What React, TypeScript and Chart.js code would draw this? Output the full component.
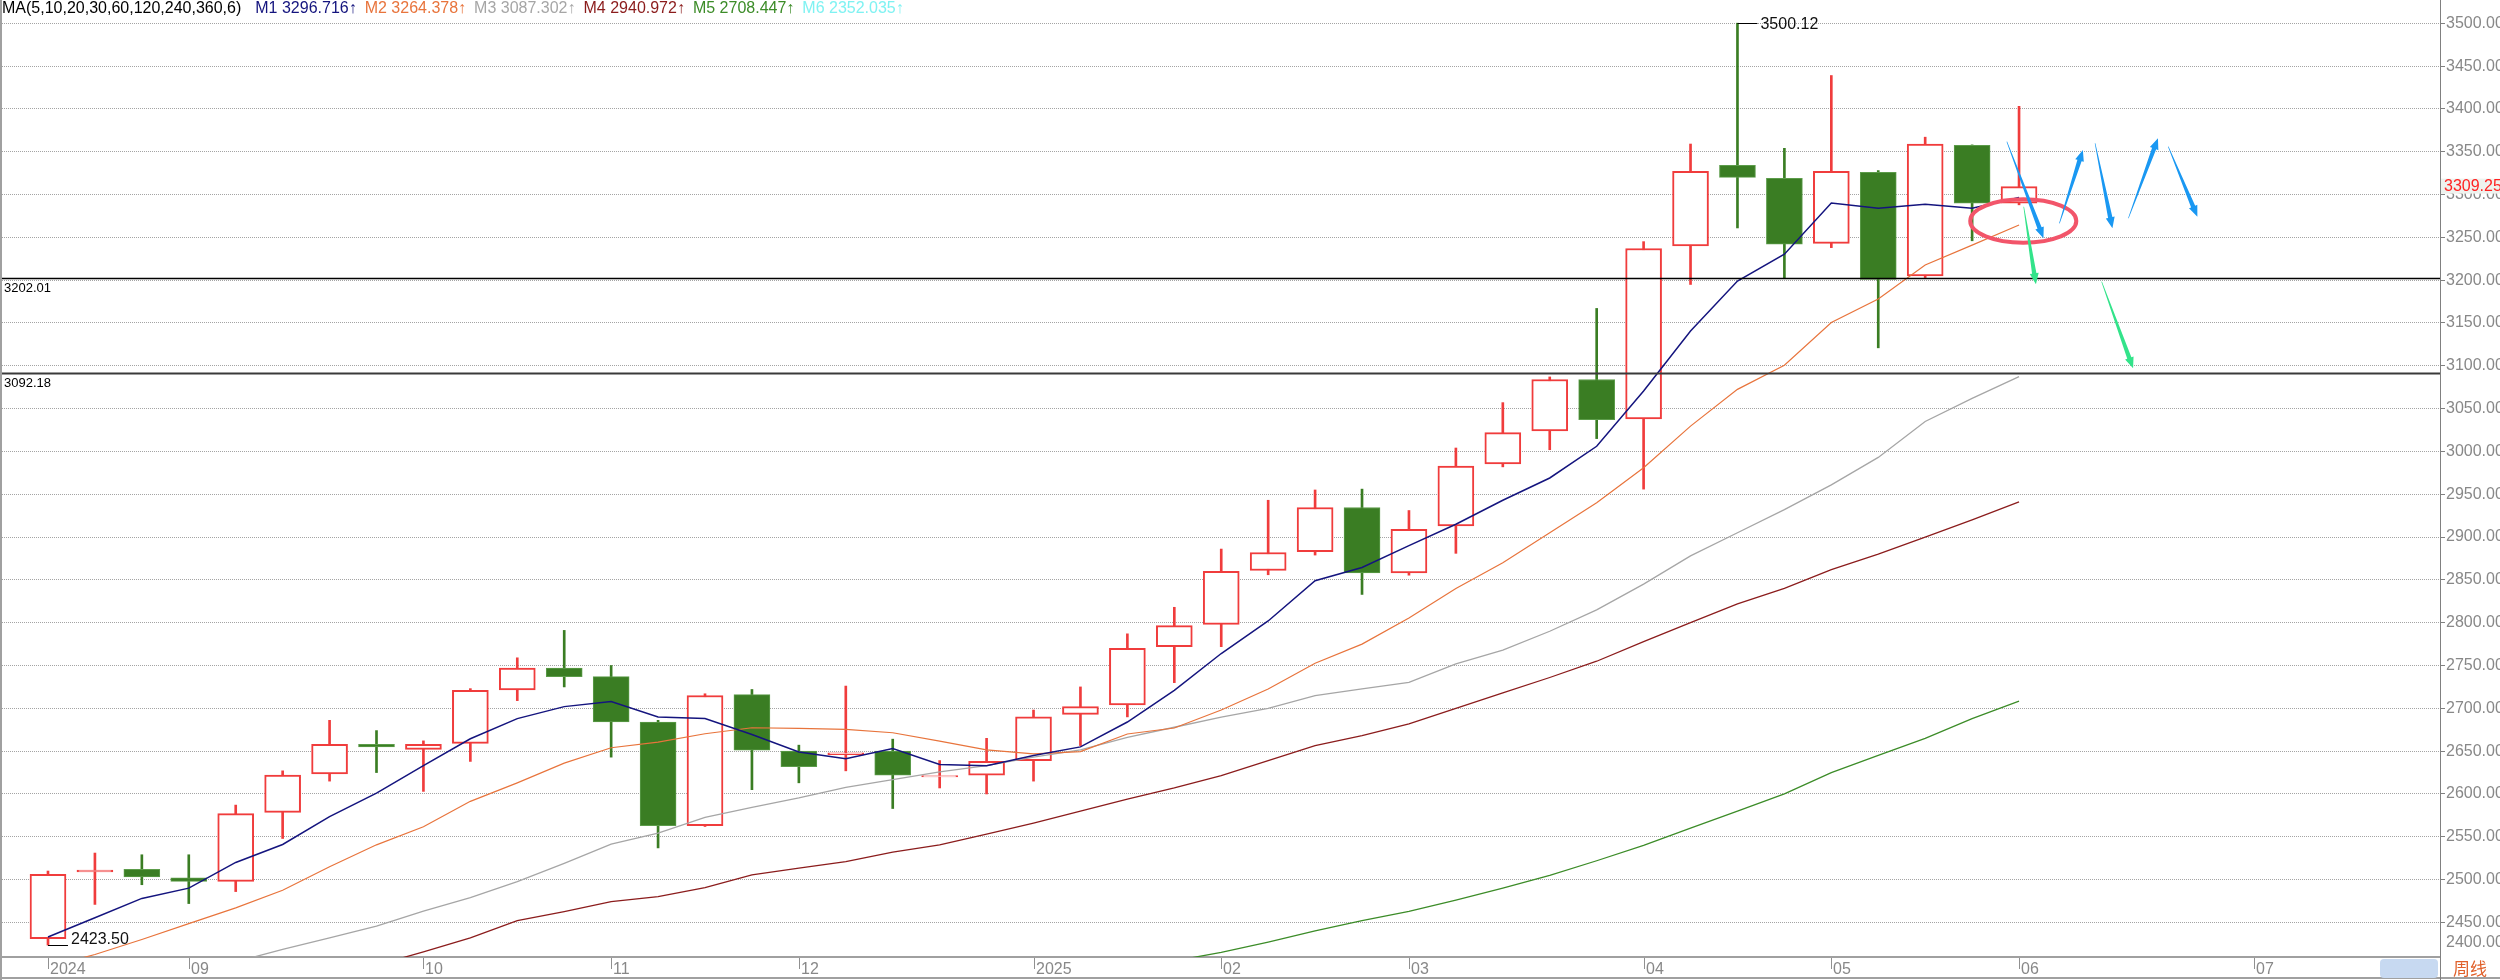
import React, { useEffect, useRef } from "react";
import { Chart, registerables } from "chart.js";

Chart.register(...registerables);

// ---------------- data ----------------
const opens = [2431, 2509, 2512, 2502, 2498, 2578.5, 2623.5, 2658, 2652, 2659, 2721.5, 2747, 2737, 2684, 2563, 2716, 2650, 2646, 2650, 2620, 2622, 2639, 2693, 2704, 2772, 2798, 2861, 2883, 2934.5, 2858, 2913, 2985.5, 3024, 3084, 3038, 3240, 3334, 3319, 3243, 3326, 3205, 3357.5, 3290];
const highs = [2510, 2531, 2529, 2529, 2587, 2627, 2686, 2674, 2662, 2723, 2759, 2791, 2750, 2686, 2717, 2722, 2657, 2726, 2664, 2639, 2665, 2698, 2725, 2787, 2818, 2886, 2943, 2955, 2956, 2931, 3004, 3057, 3087, 3167, 3245, 3359, 3500.12, 3354, 3439, 3328, 3367, 3358, 3403];
const lows = [2423.5, 2471, 2494, 2472, 2486, 2548, 2615, 2625, 2603, 2638, 2709, 2725, 2643, 2537, 2562, 2605, 2613, 2627, 2583, 2607, 2600, 2615, 2656.5, 2690, 2730, 2772, 2856, 2879, 2833, 2855.5, 2881, 2982, 3002, 3015, 2956, 3195, 3261, 3202, 3238, 3121, 3203, 3246, 3288];
const closes = [2506, 2511, 2503, 2498, 2577, 2622, 2658, 2655, 2658, 2721, 2747, 2737, 2684, 2563, 2715, 2651, 2632, 2648, 2622, 2621.5, 2638, 2690, 2702, 2770, 2796.5, 2860, 2882, 2934.5, 2858, 2909, 2983, 3022, 3084, 3037, 3237, 3327, 3320, 3242, 3327, 3201, 3359, 3290, 3309.25];

const ma1Start = 0;
const ma1 = [2433, 2455.5, 2478, 2490, 2520, 2541, 2573.5, 2601, 2633, 2664.5, 2688, 2702, 2708, 2690, 2688, 2669.5, 2649, 2641, 2653, 2634.5, 2633, 2645, 2655, 2684, 2721, 2764, 2802, 2849, 2864.5, 2890, 2915, 2943, 2969, 3006, 3070.5, 3140.7, 3199, 3230.4, 3290, 3284, 3288.6, 3284, 3296.7];
const ma2Start = 0;
const ma2 = [2398, 2412.5, 2430, 2448.5, 2467, 2487.5, 2515, 2540.6, 2561.7, 2591.4, 2613, 2636, 2654, 2660.6, 2670.3, 2677.3, 2676.6, 2675.4, 2671.5, 2661.7, 2651.5, 2646.8, 2649.5, 2670, 2677, 2698, 2722.6, 2752.6, 2775, 2805.4, 2840, 2870, 2905, 2940, 2981, 3029.6, 3072.5, 3100.6, 3150.5, 3178, 3217.7, 3241, 3264.4];
const ma3Start = 4;
const ma3 = [2404, 2418.4, 2432, 2445.7, 2463.3, 2479, 2497.7, 2519, 2541.4, 2554.3, 2572.7, 2584.4, 2595.3, 2607.8, 2616.8, 2625.8, 2633.2, 2642.9, 2651.5, 2666.2, 2677.9, 2689.6, 2700, 2714.9, 2722.6, 2730.4, 2752, 2768, 2790, 2815, 2845, 2878, 2905, 2932, 2961, 2993, 3035, 3062, 3087.3];
const ma4Start = 7;
const ma4 = [2400, 2415.6, 2432, 2452, 2462.5, 2474.2, 2480.1, 2490.6, 2505.5, 2513.3, 2521.1, 2532.1, 2540.6, 2553, 2566, 2580, 2594, 2607, 2621.5, 2639, 2656.5, 2668.2, 2681.8, 2700, 2718, 2736, 2755, 2778, 2800, 2822, 2840, 2862, 2880, 2900, 2920, 2941];
const ma5Start = 24;
const ma5 = [2405, 2415, 2427, 2440, 2452, 2463, 2476, 2490, 2505, 2522, 2540, 2560, 2580, 2600, 2625, 2645, 2665, 2688, 2708.4];

const monthTickWeeks = [0, 3, 8, 12, 16, 21, 25, 29, 34, 38, 42, 47];
const monthTickLabels = ["2024", "09", "10", "11", "12", "2025", "02", "03", "04", "05", "06", "07"];
const yTickValues = [2450, 2500, 2550, 2600, 2650, 2700, 2750, 2800, 2850, 2900, 2950, 3000, 3050, 3100, 3150, 3200, 3250, 3300, 3350, 3400, 3450, 3500];
const yBottomLabelValue = 2400;
const yMin = 2409.6;
const yMax = 3527.2;
const xMin = -0.98;
const xMax = 50.97;

const maTitle = "MA(5,10,20,30,60,120,240,360,6)";
const maNames = ["M1", "M2", "M3", "M4", "M5", "M6"];
const maLatest = [3296.716, 3264.378, 3087.302, 2940.972, 2708.447, 2352.035];
const maColors = ["#14147e", "#e8743c", "#a6a6a6", "#8b1c1c", "#3c8c28", "#7ff2f2"];

const levelValues = [3202.01, 3092.18];
const highMark = { week: 36, value: 3500.12 };
const lowMark = { week: 0, value: 2423.5 };
const lastClose = 3309.25;
const periodLabel = "周线";

// hand-drawn marks: [fromWeek, fromValue, toWeek, toValue]
const blueArrows = [
  [41.74, 3361.7, 42.52, 3248.9],
  [42.86, 3266.4, 43.36, 3352.0],
  [43.62, 3359.9, 43.99, 3260.6],
  [44.33, 3272.3, 44.96, 3365.7],
  [45.18, 3355.9, 45.80, 3274.1],
];
const greenArrows = [
  [42.10, 3285.8, 42.36, 3195.2],
  [43.76, 3198.2, 44.43, 3097.1],
];
const circleMark = { week: 42.09, value: 3269.1, rWeeks: 1.13, rValue: 25.3 };

// ---------------- styles ----------------
const FONT = '"Liberation Sans", Arial, sans-serif';
const UP = "#f03c3c";
const DOWN = "#3a7d23";
const AXIS_TEXT = "#888888";

function drawArrow(ctx: CanvasRenderingContext2D, x1: number, y1: number, x2: number, y2: number, color: string) {
  const dx = x2 - x1, dy = y2 - y1;
  const len = Math.hypot(dx, dy);
  const ux = dx / len, uy = dy / len;
  const nx = -uy, ny = ux;
  const headLen = 11, headW = 4.5;
  const bx = x2 - ux * headLen, by = y2 - uy * headLen;
  ctx.fillStyle = color;
  ctx.beginPath();
  ctx.moveTo(x1 + nx * 0.3, y1 + ny * 0.3);
  ctx.lineTo(bx + nx * 2.2, by + ny * 2.2);
  ctx.lineTo(bx + nx * headW, by + ny * headW);
  ctx.lineTo(x2, y2);
  ctx.lineTo(bx - nx * headW, by - ny * headW);
  ctx.lineTo(bx - nx * 2.2, by - ny * 2.2);
  ctx.lineTo(x1 - nx * 0.3, y1 - ny * 0.3);
  ctx.closePath();
  ctx.fill();
}

const overlayPlugin = {
  id: "overlay",
  afterDatasetsDraw(chart: any) {
    const { ctx, chartArea: ca, scales } = chart;
    const x = scales.x, y = scales.y;
    ctx.save();

    // level lines
    levelValues.forEach((v, k) => {
      const py = Math.round(y.getPixelForValue(v)) + 0.5;
      ctx.strokeStyle = k === 0 ? "#000000" : "#3a3a3a";
      ctx.lineWidth = k === 0 ? 1.5 : 2;
      ctx.beginPath();
      ctx.moveTo(0, py);
      ctx.lineTo(ca.right, py);
      ctx.stroke();
      ctx.fillStyle = "#000";
      ctx.font = `13px ${FONT}`;
      ctx.textBaseline = "top";
      ctx.textAlign = "left";
      ctx.fillText(v.toFixed(2), 4, py + 3);
    });

    // high / low labels
    ctx.font = `16px ${FONT}`;
    ctx.strokeStyle = "#000";
    ctx.lineWidth = 1;
    {
      const px = x.getPixelForValue(highMark.week);
      const py = Math.round(y.getPixelForValue(highMark.value)) + 0.5;
      ctx.beginPath();
      ctx.moveTo(px, py);
      ctx.lineTo(px + 20, py);
      ctx.stroke();
      ctx.fillStyle = "#111";
      ctx.textBaseline = "middle";
      ctx.fillText(highMark.value.toFixed(2), px + 23, py + 1);
    }
    {
      const px = x.getPixelForValue(lowMark.week);
      const py = Math.round(y.getPixelForValue(lowMark.value)) + 0.5;
      ctx.beginPath();
      ctx.moveTo(px, py);
      ctx.lineTo(px + 20, py);
      ctx.stroke();
      ctx.fillStyle = "#111";
      ctx.textBaseline = "alphabetic";
      ctx.fillText(lowMark.value.toFixed(2), px + 23, py - 2);
    }

    // ellipse
    {
      const cx = x.getPixelForValue(circleMark.week);
      const cy = y.getPixelForValue(circleMark.value);
      const rx = x.getPixelForValue(circleMark.week + circleMark.rWeeks) - cx;
      const ry = y.getPixelForValue(circleMark.value - circleMark.rValue) - cy;
      ctx.strokeStyle = "#f2556a";
      ctx.lineWidth = 4;
      ctx.beginPath();
      ctx.ellipse(cx, cy, rx, ry, 0, 0, Math.PI * 2);
      ctx.stroke();
    }

    blueArrows.forEach(([w1, v1, w2, v2]) =>
      drawArrow(ctx, x.getPixelForValue(w1), y.getPixelForValue(v1), x.getPixelForValue(w2), y.getPixelForValue(v2), "#1a98f2")
    );
    greenArrows.forEach(([w1, v1, w2, v2]) =>
      drawArrow(ctx, x.getPixelForValue(w1), y.getPixelForValue(v1), x.getPixelForValue(w2), y.getPixelForValue(v2), "#33e38a")
    );
    ctx.restore();
  },
  afterDraw(chart: any) {
    const { ctx, chartArea: ca, scales, width, height } = chart;
    const x = scales.x, y = scales.y;
    ctx.save();

    // frame
    ctx.strokeStyle = "#a0a0a0";
    ctx.lineWidth = 2;
    ctx.beginPath();
    ctx.moveTo(1, 0);
    ctx.lineTo(1, height);
    ctx.moveTo(0, height - 2);
    ctx.lineTo(width, height - 2);
    ctx.stroke();
    ctx.strokeStyle = "#808080";
    ctx.lineWidth = 1;
    ctx.beginPath();
    ctx.moveTo(ca.right + 0.5, ca.bottom);
    ctx.lineTo(ca.right + 0.5, height);
    ctx.stroke();

    // x ticks & labels
    ctx.font = `16px ${FONT}`;
    ctx.textAlign = "left";
    ctx.textBaseline = "alphabetic";
    monthTickWeeks.forEach((w, i) => {
      const px = Math.round(x.getPixelForValue(w)) + 0.5;
      ctx.strokeStyle = "#909090";
      ctx.lineWidth = 1;
      ctx.beginPath();
      ctx.moveTo(px, ca.bottom + 1);
      ctx.lineTo(px, ca.bottom + 12);
      ctx.stroke();
      ctx.fillStyle = AXIS_TEXT;
      ctx.fillText(monthTickLabels[i], px + 1.5, ca.bottom + 16.5);
    });

    // bottom value label (clamped)
    ctx.fillStyle = AXIS_TEXT;
    ctx.fillText(yBottomLabelValue.toFixed(2), ca.right + 6, ca.bottom - 10);

    // last close tag
    {
      const py = y.getPixelForValue(lastClose);
      ctx.fillStyle = "#eef2ee";
      ctx.fillRect(ca.right + 1, py - 8, width - ca.right - 1, 15);
      ctx.fillStyle = "#ff2222";
      ctx.textBaseline = "middle";
      ctx.fillText(lastClose.toFixed(2), ca.right + 4, py);
    }

    // period cell
    ctx.fillStyle = "#c7d9f1";
    ctx.beginPath();
    (ctx as any).roundRect(ca.right - 60, ca.bottom + 2, 58, 19, 4);
    ctx.fill();
    ctx.fillStyle = "#e0602a";
    ctx.font = `17px "Noto Sans CJK SC", sans-serif`;
    ctx.textBaseline = "middle";
    ctx.fillText(periodLabel, ca.right + 13, ca.bottom + 12);

    // legend
    ctx.font = `16px ${FONT}`;
    ctx.textBaseline = "alphabetic";
    let lx = 2;
    ctx.fillStyle = "#000";
    ctx.fillText(maTitle, lx, 13);
    lx += ctx.measureText(maTitle).width + 14;
    maNames.forEach((n, i) => {
      const t = `${n} ${maLatest[i].toFixed(3)}\u2191`;
      ctx.fillStyle = maColors[i];
      ctx.fillText(t, lx, 13);
      lx += ctx.measureText(t).width + 8;
    });
    ctx.restore();
  },
};

export default function App() {
  const ref = useRef<HTMLCanvasElement>(null);
  useEffect(() => {
    const canvas = ref.current;
    if (!canvas) return;
    const isUp = closes.map((c, i) => c >= opens[i]);
    const bodies = opens.map((o, i) => ({ x: i, y: [o, closes[i]] }));
    const wicks = lows.map((l, i) => ({ x: i, y: [l, highs[i]] }));
    const series = (arr: number[], start: number) => arr.map((v, i) => ({ x: i + start, y: v }));

    const lineDs = (label: string, data: any[], color: string, w: number) => ({
      type: "line" as const,
      label,
      data,
      borderColor: color,
      borderWidth: w,
      pointRadius: 0,
      tension: 0,
      order: 0,
    });

    const chart = new Chart(canvas, {
      type: "bar",
      data: {
        datasets: [
          lineDs("M1", series(ma1, ma1Start), maColors[0], 1.5),
          lineDs("M2", series(ma2, ma2Start), maColors[1], 1.2),
          lineDs("M3", series(ma3, ma3Start), maColors[2], 1.3),
          lineDs("M4", series(ma4, ma4Start), maColors[3], 1.3),
          lineDs("M5", series(ma5, ma5Start), maColors[4], 1.3),
          {
            type: "bar",
            label: "body",
            data: bodies as any,
            backgroundColor: isUp.map((u) => (u ? "#ffffff" : DOWN)),
            borderColor: isUp.map((u) => (u ? UP : "#5c9c4a")),
            borderWidth: isUp.map((u) => (u ? 2 : 1)),
            borderSkipped: false,
            barThickness: 36,
            grouped: false,
            order: 1,
          } as any,
          {
            type: "bar",
            label: "wick",
            data: wicks as any,
            backgroundColor: isUp.map((u) => (u ? UP : DOWN)),
            borderWidth: 0,
            barThickness: 2,
            grouped: false,
            order: 2,
          } as any,
        ],
      },
      options: {
        responsive: false,
        animation: false,
        maintainAspectRatio: false,
        devicePixelRatio: 1,
        layout: { padding: { left: 2, top: 0, right: 0, bottom: 0 } },
        plugins: { legend: { display: false }, tooltip: { enabled: false } },
        scales: {
          x: {
            type: "linear",
            position: "bottom",
            min: xMin,
            max: xMax,
            offset: false,
            grid: { display: false, offset: false, drawTicks: false },
            ticks: { display: false },
            border: { display: true, color: "#a0a0a0", width: 2 },
            afterFit: (s: any) => {
              s.height = 23;
              s.paddingLeft = 0;
              s.paddingRight = 0;
            },
          },
          y: {
            type: "linear",
            position: "right",
            min: yMin,
            max: yMax,
            afterBuildTicks: (s: any) => {
              s.ticks = yTickValues.map((value) => ({ value }));
            },
            afterFit: (s: any) => {
              s.width = 60;
              s.paddingTop = 0;
              s.paddingBottom = 0;
            },
            grid: {
              color: "#a4a4a4",
              lineWidth: 1,
              drawTicks: true,
              tickLength: 5,
              tickColor: "#808080",
              tickBorderDash: [],
            },
            border: { display: true, color: "#808080", width: 1, dash: [1, 1] },
            ticks: {
              color: AXIS_TEXT,
              font: { size: 16, family: FONT },
              padding: 1,
              autoSkip: false,
              callback: (v: any) => Number(v).toFixed(2),
            },
          },
        },
      } as any,
      plugins: [overlayPlugin],
    });
    return () => chart.destroy();
  }, []);

  return (
    <div style={{ position: "fixed", left: 0, top: 0, width: 2500, height: 980, background: "#ffffff" }}>
      <canvas ref={ref} width={2500} height={980} style={{ display: "block", width: 2500, height: 980 }} />
    </div>
  );
}
